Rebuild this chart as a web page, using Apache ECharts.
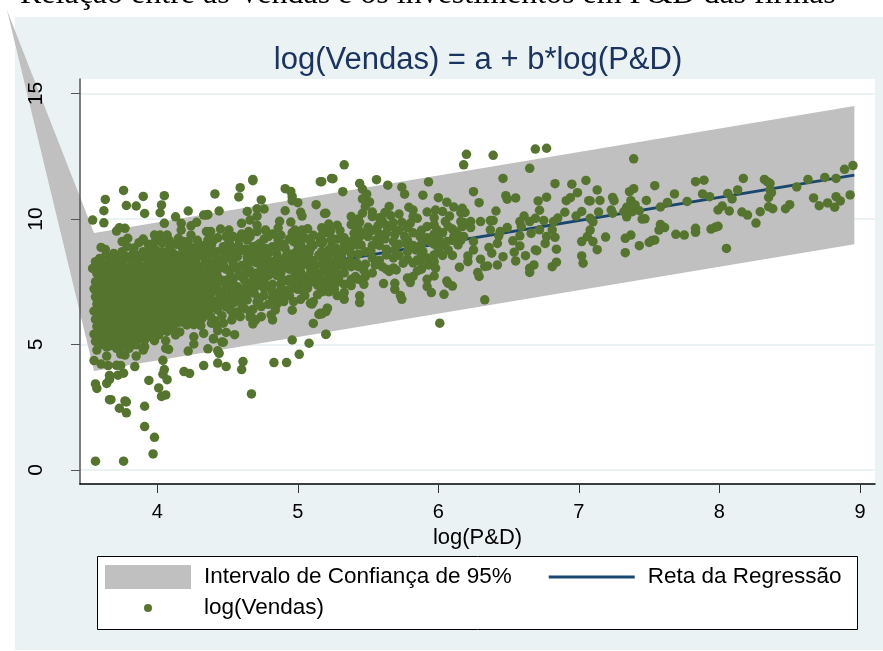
<!DOCTYPE html>
<html><head><meta charset="utf-8">
<style>html,body{margin:0;padding:0;background:#fff}#c{width:883px;height:651px}</style>
<script src="https://cdn.jsdelivr.net/npm/echarts@6/dist/echarts.min.js"></script>
</head><body><div id="c"></div>
<script>
const tickX = [4,5,6,7,8,9];
const tickY = [0,5,10,15];
const bandX = [2.93,3.55,8.96,8.96,3.55];
const bandY = [18.33,9.44,14.5,9.0,3.94];
const lineX = [3.55,8.96];
const lineY = [6.75,11.75];

const pontosDireita = [[7.39,12.40],[7.13,11.16],[7.08,10.72],[7.15,10.74],[7.24,10.86],[7.25,10.73],[7.36,11.09],[7.39,11.21],[7.54,11.33],[7.37,10.73],[7.48,10.74],[7.68,11.0],[7.63,10.66],[7.77,10.70],[7.58,10.48],[7.83,11.49],[7.89,11.55],[7.88,11.0],[7.93,10.89],[8.17,11.62],[8.13,11.16],[8.06,11.02],[8.09,10.8],[8.32,11.58],[8.34,11.49],[8.36,11.42],[8.36,11.16],[8.37,11.05],[8.35,10.86],[8.55,11.28],[8.63,11.58],[8.75,11.66],[8.83,11.62],[8.89,11.98],[8.95,12.13],[8.67,10.84],[8.71,10.53],[8.77,10.64],[8.82,10.47],[8.83,10.89],[8.86,10.72],[8.93,10.96],[8.35,10.49],[8.38,10.41],[8.47,10.41],[8.50,10.57],[8.29,10.29],[8.16,10.28],[8.20,10.16],[8.26,9.84],[8.02,10.52],[7.99,10.36],[8.07,10.32],[8.05,8.83],[7.99,9.71],[7.97,9.67],[7.94,9.6],[7.83,9.63],[7.83,9.47],[7.69,9.39],[7.75,9.36],[7.58,9.78],[7.61,9.66],[7.57,9.56],[7.54,9.16],[7.52,9.14],[7.50,9.07],[7.43,8.94],[7.33,8.66],[7.37,9.36],[7.33,9.23],[7.19,9.28],[7.13,8.78],[7.10,9.10],[7.08,9.56],[7.10,9.89],[7.08,10.03],[7.14,10.28],[7.23,10.36],[7.24,10.23],[7.32,10.29],[7.34,10.47],[7.37,10.56],[7.40,10.56],[7.34,10.09],[7.38,10.29],[7.43,10.33],[7.45,10.0],[7.47,10.01]];

const pontosCentro = [[5.33,12.16],[5.17,11.49],[5.25,11.61],[5.44,11.42],[5.56,11.57],[5.64,11.35],[5.32,11.09],[5.46,11.19],[5.49,10.99],[5.46,10.80],[5.51,10.68],[5.74,11.27],[5.76,10.99],[5.93,11.48],[5.89,10.95],[6.0,10.85],[6.06,10.67],[6.11,10.48],[6.17,10.43],[6.19,10.26],[6.20,12.58],[6.18,12.16],[6.39,12.54],[6.69,12.79],[6.77,12.82],[6.65,12.02],[6.46,11.62],[6.25,11.09],[6.29,10.65],[6.41,10.32],[6.48,10.93],[6.49,10.79],[6.55,10.84],[6.71,10.72],[6.77,10.87],[6.83,11.41],[6.95,11.39],[7.05,11.54],[6.99,11.05],[6.94,10.85],[6.91,10.73],[7.07,10.73],[6.90,10.27],[7.02,10.3],[6.98,10.12],[6.72,10.35],[6.61,10.12],[6.58,9.9],[6.65,9.9],[6.69,10.03],[6.75,9.94],[6.85,10.04],[6.82,9.9],[6.81,9.57],[6.72,9.57],[6.66,9.43],[6.59,9.70],[6.58,9.33],[6.49,9.66],[6.44,9.5],[6.43,9.33],[6.37,9.57],[6.37,9.94],[6.39,9.94],[6.30,9.9],[6.23,9.9],[6.23,9.66],[6.18,9.86],[6.17,9.70],[6.08,10.12],[5.98,10.36],[5.92,10.28],[5.79,10.47],[5.82,10.36],[5.85,10.03],[5.80,9.83],[5.74,9.87],[5.65,10.5],[5.62,10.26],[5.66,10.14],[5.53,10.28],[5.46,10.23],[5.44,9.87],[5.38,9.78],[5.50,9.67],[5.57,9.73],[5.60,9.94],[5.67,9.70],[5.69,9.37],[5.62,9.21],[5.56,9.17],[5.50,9.30],[5.44,9.30],[5.40,9.43],[5.30,9.54],[5.23,9.50],[5.20,10.23],[5.16,9.30],[5.45,8.97],[5.52,8.74],[5.55,8.17],[5.47,7.95],[5.41,7.71],[5.47,7.4],[5.61,7.43],[5.69,7.44],[5.69,7.2],[5.73,6.95],[5.74,6.8],[5.44,6.94],[5.44,6.67],[5.33,7.07],[5.33,6.8],[5.25,7.18],[5.21,6.45],[5.17,6.22],[5.20,5.41],[6.01,5.85],[6.33,6.78],[5.63,8.57],[5.69,8.77],[5.78,8.7],[5.75,8.24],[5.70,7.97],[5.65,7.91],[5.60,8.1],[5.85,8.37],[5.87,8.3],[5.93,8.17],[5.98,8.04],[5.97,7.73],[5.85,7.93],[5.82,7.71],[5.80,7.47],[5.92,7.31],[5.95,7.07],[6.04,7.0],[6.06,7.53],[6.10,7.33],[6.07,7.44],[6.15,8.08],[6.21,8.53],[6.21,8.3],[6.28,7.87],[6.29,7.71],[6.30,8.4],[6.33,8.11],[6.35,8.13],[6.42,8.17],[6.46,8.5],[6.38,8.64],[6.36,8.87],[6.42,9.03],[6.25,9.1],[6.25,8.77],[6.14,8.97],[6.07,8.77],[6.0,8.77],[5.97,8.57],[5.89,8.7],[5.84,8.77],[5.78,8.97],[5.76,9.30],[5.87,9.3],[5.94,9.1],[6.0,9.23],[6.06,9.1],[6.11,9.3],[6.18,9.3],[5.97,9.77],[5.99,9.57],[6.05,9.9],[6.07,9.7],[6.12,9.5],[6.14,9.37],[6.53,9.13],[6.58,8.93],[6.54,8.68],[6.55,8.33],[6.62,8.54],[6.69,8.77],[6.70,8.74],[6.76,9.03],[6.77,9.3],[6.83,9.27],[6.84,8.8],[6.84,8.28],[6.81,8.1],[6.68,8.17],[6.65,8.04],[6.65,7.87],[7.02,8.53],[7.03,8.24],[7.02,9.1],[7.06,9.3],[5.18,8.3],[5.23,8.24],[5.28,8.37],[5.31,8.5],[5.37,8.3],[5.42,8.24],[5.21,7.97],[5.27,7.84],[5.33,8.1],[5.16,7.84],[5.23,7.44],[5.2,7.37],[5.27,7.44],[5.16,7.31],[5.18,9.1],[5.24,9.17],[5.22,8.77],[5.27,8.84],[5.33,8.97],[5.37,8.77],[5.42,8.97],[5.40,9.17],[5.17,8.5]];

const pontosTopo = [[3.76,11.14],[3.63,10.78],[3.90,10.90],[4.05,10.93],[3.78,10.54],[3.85,10.52],[4.03,10.56],[3.62,10.33],[3.91,10.22],[4.02,10.25],[3.54,9.96],[3.62,9.85],[4.13,10.09],[4.22,10.32],[4.33,10.16],[4.05,9.83],[3.77,9.63],[3.73,9.65],[3.71,9.52],[3.79,9.23],[3.75,9.10],[3.90,9.20],[3.87,9.06],[3.98,9.36],[4.02,9.36],[4.07,9.36],[4.17,9.83],[4.17,9.56],[4.28,9.87],[4.24,9.73],[4.35,10.16],[4.35,9.5],[4.24,9.36],[4.15,9.23],[3.60,8.87],[3.63,8.79],[3.96,8.92],[3.99,8.76],[4.09,8.87],[4.18,8.83],[4.30,8.96],[4.36,9.16],[3.56,8.3],[3.59,8.43],[3.69,8.63],[3.75,8.7],[3.83,8.63],[3.90,8.7],[4.02,8.43],[4.16,8.5],[4.27,8.63],[3.54,8.03],[3.66,8.37],[3.76,8.37],[3.86,8.3],[3.95,8.23],[4.07,8.23],[4.23,8.3],[4.34,8.37],[4.68,11.58],[4.68,11.53],[4.59,11.25],[4.41,11.0],[4.58,10.88],[4.91,11.21],[4.95,11.10],[4.96,10.89],[4.96,10.73],[5.0,10.65],[5.16,11.49],[5.24,11.62],[4.74,10.76],[5.13,10.57],[4.44,10.32],[4.36,10.18],[4.64,10.3],[4.71,10.41],[4.76,10.4],[4.91,10.33],[5.02,10.27],[5.03,10.12],[5.19,10.22],[4.71,10.12],[4.66,9.96],[4.6,9.83],[4.87,9.91],[4.86,9.64],[4.95,9.88],[5.07,9.61],[4.98,9.56],[4.96,9.45],[5.23,9.53],[5.19,9.45],[5.24,9.23],[5.16,9.16],[5.09,9.1],[5.03,9.56],[4.77,9.56],[4.71,9.5],[4.65,9.5],[4.79,9.3],[4.86,9.16],[4.51,9.56],[4.45,9.6],[4.38,9.5],[4.40,9.16],[4.51,9.1],[4.58,8.96],[4.64,9.16],[4.73,9.03],[4.77,8.83],[4.97,9.1],[4.91,8.83],[4.85,8.83],[5.0,8.76],[5.09,8.83],[5.17,9.03],[5.24,8.9],[5.15,8.57],[5.2,8.57],[5.05,8.43],[4.96,8.43],[4.86,8.43],[4.79,8.37],[4.70,8.63],[4.64,8.5],[4.54,8.7],[4.47,8.9],[4.48,8.5],[4.39,8.63],[4.35,8.37],[4.41,8.17],[4.54,8.23],[4.62,8.1],[4.74,8.17],[4.91,8.1],[5.0,8.1],[5.12,8.1],[5.24,8.23]];

const pontosBase = [[3.56,0.35],[3.76,0.35],[3.97,0.64],[3.98,1.30],[3.91,1.73],[3.91,2.54],[3.78,2.28],[3.73,2.46],[3.78,2.71],[3.77,2.75],[3.67,2.8],[3.66,2.8],[3.57,3.25],[3.56,3.43],[3.64,3.45],[3.66,3.77],[3.66,3.61],[3.72,3.78],[3.76,3.86],[3.94,3.57],[4.01,3.27],[4.03,2.93],[4.06,2.99],[4.07,3.60],[4.04,3.82],[4.05,4.0],[4.04,4.37],[3.84,4.12],[3.55,4.36],[3.6,4.22],[3.65,4.16],[3.71,4.17],[3.74,4.16],[3.85,4.54],[4.19,3.92],[4.23,3.85],[4.33,4.16],[4.43,4.26],[4.49,4.12],[4.60,4.0],[4.61,4.32],[4.83,4.28],[4.92,4.28],[5.01,4.61],[5.08,5.05],[4.96,5.18],[4.67,3.03],[4.22,4.74],[4.36,4.83],[4.43,4.75],[4.44,4.65],[3.57,4.78],[3.64,4.54],[3.64,4.91],[3.71,4.85],[3.74,4.62],[3.77,4.58],[3.80,4.85],[3.85,4.99],[3.90,4.78],[3.91,4.91],[4.06,4.85],[4.08,4.81],[3.98,5.15],[4.13,5.38],[4.26,5.31],[4.26,5.02],[4.33,5.44],[4.40,5.22],[4.46,5.10],[4.49,5.48],[4.55,5.39],[4.43,5.55],[5.11,5.84],[4.96,6.37],[4.68,5.82],[4.82,5.98],[4.26,5.79],[4.21,5.78],[4.68,6.04],[5.15,6.2],[5.10,6.61],[5.16,6.25],[5.2,6.31],[5.21,6.44],[5.20,5.4],[4.47,5.09],[4.40,5.24],[4.7,5.98],[4.81,6.18],[4.84,6.38],[4.74,6.11],[4.66,6.09],[4.59,6.11],[4.53,5.98],[4.47,5.85],[4.42,5.78],[5.09,6.64],[5.14,6.98],[5.04,7.11],[4.97,6.71],[4.9,6.71],[5.26,7.2],[5.21,7.44],[5.29,7.64],[5.14,7.37],[5.08,7.77],[5.14,7.71],[5.0,7.57],[4.95,7.44],[4.88,7.44],[4.82,7.11],[4.76,7.24],[4.69,7.04],[4.64,6.78],[4.74,6.51],[4.62,6.44],[4.52,6.38],[4.43,6.38],[4.38,6.11],[4.52,6.78],[4.45,6.91],[4.38,6.64],[4.57,7.04],[4.49,7.31],[4.43,7.44],[4.62,7.57],[4.69,7.57],[4.52,7.71],[4.43,7.97],[4.47,8.17],[4.57,8.04],[4.64,8.1],[4.74,7.97],[4.83,8.04],[4.89,7.57],[4.97,8.04],[5.02,8.24],[5.09,8.04],[5.19,8.04],[5.27,7.97],[5.27,8.3]];

const pontosNucleo = [
[3.56,5.12],[3.55,5.41],[3.57,5.72],[3.56,6.0],[3.55,6.33],[3.57,6.61],[3.56,6.9],[3.55,7.22],[3.56,7.5],[3.57,7.83],
[3.61,5.0],[3.6,5.3],[3.62,5.58],[3.61,5.88],[3.6,6.2],[3.62,6.47],[3.61,6.77],[3.6,7.07],[3.62,7.38],[3.61,7.66],[3.6,7.95],[3.62,8.18],
[3.66,4.95],[3.67,5.22],[3.65,5.5],[3.66,5.81],[3.67,6.1],[3.65,6.4],[3.66,6.7],[3.67,6.98],[3.65,7.3],[3.66,7.58],[3.67,7.88],
[3.71,5.1],[3.72,5.4],[3.7,5.7],[3.71,6.0],[3.72,6.3],[3.7,6.58],[3.72,6.88],[3.71,7.18],[3.7,7.48],[3.72,7.77],[3.71,8.08],[3.7,8.35],
[3.76,4.95],[3.77,5.25],[3.75,5.55],[3.76,5.86],[3.77,6.14],[3.75,6.46],[3.76,6.75],[3.77,7.03],[3.75,7.34],[3.76,7.62],[3.77,7.92],[3.75,8.15],
[3.81,5.12],[3.82,5.42],[3.8,5.72],[3.81,6.02],[3.82,6.3],[3.8,6.6],[3.82,6.9],[3.81,7.2],[3.8,7.5],[3.82,7.78],[3.81,8.05],[3.8,8.4],
[3.86,5.2],[3.87,5.52],[3.85,5.82],[3.86,6.12],[3.87,6.42],[3.85,6.72],[3.86,7.02],[3.87,7.32],[3.85,7.62],[3.86,7.92],[3.87,8.55],
[3.91,5.18],[3.92,5.42],[3.9,5.7],[3.91,6.0],[3.92,6.3],[3.9,6.6],[3.92,6.88],[3.91,7.18],[3.9,7.48],[3.92,7.76],[3.91,8.05],[3.92,8.45],
[3.96,5.3],[3.97,5.6],[3.95,5.9],[3.96,6.2],[3.97,6.5],[3.95,6.8],[3.96,7.1],[3.97,7.38],[3.95,7.68],[3.96,7.96],[3.97,8.5],
[4.01,5.38],[4.02,5.7],[4.0,6.0],[4.01,6.3],[4.02,6.6],[4.0,6.9],[4.01,7.2],[4.02,7.5],[4.0,7.8],[4.01,8.08],[4.0,8.6],
[4.06,5.15],[4.07,5.52],[4.05,5.8],[4.06,6.1],[4.07,6.42],[4.05,6.72],[4.06,7.0],[4.07,7.32],[4.05,7.62],[4.06,7.9],[4.07,8.5],
[4.11,5.7],[4.12,6.0],[4.1,6.3],[4.11,6.58],[4.12,6.88],[4.1,7.18],[4.11,7.48],[4.12,7.78],[4.1,8.05],[4.12,8.35],[4.11,8.65],
[4.16,5.5],[4.17,5.9],[4.15,6.2],[4.16,6.48],[4.17,6.78],[4.15,7.08],[4.16,7.38],[4.17,7.68],[4.15,7.95],[4.17,8.2],[4.15,9.0],
[4.21,6.05],[4.22,6.35],[4.2,6.65],[4.21,6.95],[4.22,7.25],[4.2,7.55],[4.21,7.85],[4.22,8.1],[4.2,8.62],[4.22,9.1],
[4.26,6.18],[4.27,6.48],[4.25,6.8],[4.26,7.1],[4.27,7.4],[4.25,7.7],[4.26,8.0],[4.27,8.28],[4.25,8.85],
[4.31,5.75],[4.32,6.05],[4.3,6.35],[4.31,6.65],[4.32,6.95],[4.3,7.25],[4.31,7.55],[4.32,7.85],[4.3,8.12],[4.31,8.7],
[4.36,6.3],[4.37,6.85],[4.35,7.15],[4.36,7.45],[4.37,7.75],[4.35,8.02],[4.36,8.85],
[4.41,5.95],[4.42,6.6],[4.4,7.12],[4.41,7.65],[4.42,8.4],
[4.46,6.15],[4.47,6.65],[4.46,7.1],[4.47,7.55],[4.46,8.35],[4.48,8.75],
[4.51,6.55],[4.52,7.0],[4.53,7.45],[4.52,7.95],[4.51,8.45],[4.52,8.95],
[4.57,6.3],[4.58,6.85],[4.57,7.3],[4.58,7.78],[4.57,8.5],[4.58,9.2],
[4.63,6.95],[4.64,7.35],[4.63,7.85],[4.64,8.3],[4.63,8.8],
[4.68,6.4],[4.69,7.25],[4.68,7.75],[4.69,8.3],[4.68,8.9],
[4.73,6.85],[4.74,7.45],[4.73,7.75],[4.74,8.4],[4.73,8.8],
[4.79,6.6],[4.8,7.3],[4.79,7.75],[4.8,8.15],[4.79,8.65],
[4.85,6.6],[4.86,6.95],[4.85,7.75],[4.86,8.2],[4.85,8.6],
[4.91,7.15],[4.92,7.55],[4.91,8.35],[4.92,8.55],[4.9,9.0],
[4.97,7.25],[4.98,7.75],[4.97,8.25],[4.98,8.65],
[5.02,6.8],[5.03,7.4],[5.02,7.9],[5.03,8.55],[5.02,9.05],
[5.07,7.25],[5.08,7.55],[5.07,8.25],[5.08,8.65]
];

const pontosDensos = [
[3.585,5.26],[3.585,5.55],[3.585,5.85],[3.585,6.15],[3.585,6.45],[3.585,6.75],[3.585,7.05],[3.585,7.35],[3.585,7.65],[3.585,7.95],[3.585,8.25],
[3.635,5.12],[3.635,5.42],[3.635,5.72],[3.635,6.03],[3.635,6.32],[3.635,6.62],[3.635,6.92],[3.635,7.22],[3.635,7.52],[3.635,7.8],[3.635,8.1],[3.635,8.55],
[3.685,5.28],[3.685,5.6],[3.685,5.9],[3.685,6.2],[3.685,6.5],[3.685,6.82],[3.685,7.12],[3.685,7.42],[3.685,7.72],[3.685,8.02],[3.685,8.32],
[3.735,5.18],[3.735,5.48],[3.735,5.78],[3.735,6.08],[3.735,6.38],[3.735,6.68],[3.735,6.97],[3.735,7.27],[3.735,7.57],[3.735,7.87],[3.735,8.2],[3.735,8.55],
[3.785,5.32],[3.785,5.65],[3.785,5.95],[3.785,6.25],[3.785,6.55],[3.785,6.85],[3.785,7.15],[3.785,7.45],[3.785,7.75],[3.785,8.05],[3.785,8.5],[3.785,8.9],
[3.835,5.05],[3.835,5.35],[3.835,5.67],[3.835,5.97],[3.835,6.27],[3.835,6.57],[3.835,6.87],[3.835,7.17],[3.835,7.47],[3.835,7.77],[3.835,8.1],[3.835,8.45],[3.835,8.85],
[3.885,5.38],[3.885,5.68],[3.885,5.98],[3.885,6.28],[3.885,6.58],[3.885,6.88],[3.885,7.18],[3.885,7.48],[3.885,7.78],[3.885,8.12],[3.885,8.5],
[3.935,5.55],[3.935,5.85],[3.935,6.15],[3.935,6.45],[3.935,6.75],[3.935,7.05],[3.935,7.35],[3.935,7.65],[3.935,7.95],[3.935,8.3],[3.935,8.65],[3.935,9.0],
[3.985,5.45],[3.985,5.78],[3.985,6.08],[3.985,6.38],[3.985,6.68],[3.985,6.98],[3.985,7.28],[3.985,7.58],[3.985,7.88],[3.985,8.2],[3.985,8.55],[3.985,9.1],
[4.035,5.55],[4.035,5.88],[4.035,6.18],[4.035,6.48],[4.035,6.78],[4.035,7.08],[4.035,7.38],[4.035,7.68],[4.035,7.95],[4.035,8.3],[4.035,8.7],[4.035,9.05],
[4.085,5.65],[4.085,5.95],[4.085,6.25],[4.085,6.55],[4.085,6.85],[4.085,7.15],[4.085,7.45],[4.085,7.75],[4.085,8.05],[4.085,8.4],[4.085,8.75],[4.085,9.15],
[4.135,5.85],[4.135,6.15],[4.135,6.45],[4.135,6.75],[4.135,7.05],[4.135,7.35],[4.135,7.65],[4.135,7.95],[4.135,8.22],[4.135,8.55],[4.135,9.0],
[4.185,6.05],[4.185,6.35],[4.185,6.65],[4.185,6.95],[4.185,7.25],[4.185,7.55],[4.185,7.85],[4.185,8.15],[4.185,8.45],[4.185,8.75],[4.185,9.1],
[4.235,5.95],[4.235,6.2],[4.235,6.5],[4.235,6.8],[4.235,7.1],[4.235,7.4],[4.235,7.7],[4.235,8.0],[4.235,8.45],[4.235,8.8],
[4.285,6.05],[4.285,6.35],[4.285,6.65],[4.285,6.95],[4.285,7.25],[4.285,7.55],[4.285,7.85],[4.285,8.15],[4.285,8.5],[4.285,9.15],
[4.335,6.2],[4.335,6.5],[4.335,6.8],[4.335,7.1],[4.335,7.4],[4.335,7.7],[4.335,8.0],[4.335,8.55],[4.335,8.95],
[4.385,5.85],[4.385,6.45],[4.385,6.75],[4.385,7.05],[4.385,7.35],[4.385,7.9],[4.385,8.25],[4.385,8.95],
[4.43,6.75],[4.43,7.15],[4.43,7.7],[4.43,8.3],[4.43,8.7],[4.43,9.25],
[4.49,6.5],[4.49,6.85],[4.49,7.55],[4.49,8.0],[4.49,8.6],[4.49,9.3],
[4.54,6.15],[4.54,6.65],[4.54,7.2],[4.54,7.6],[4.54,8.4],[4.54,9.3],
[4.6,6.6],[4.6,7.2],[4.6,7.7],[4.6,8.15],[4.6,8.75],[4.6,9.4],
[4.66,6.3],[4.66,7.1],[4.66,7.45],[4.66,7.95],[4.66,8.6],[4.66,9.3],
[4.71,6.7],[4.71,7.35],[4.71,7.85],[4.71,8.25],[4.71,8.95],[4.71,9.75],
[4.76,6.95],[4.76,7.55],[4.76,8.05],[4.76,8.6],[4.76,9.2],
[4.82,6.85],[4.82,7.4],[4.82,7.85],[4.82,8.3],[4.82,8.9],[4.82,9.4],
[4.88,6.85],[4.88,7.2],[4.88,7.85],[4.88,8.3],[4.88,9.0],[4.88,9.35],
[4.94,6.95],[4.94,7.6],[4.94,8.0],[4.94,8.6],[4.94,9.2],
[5.0,7.2],[5.0,7.85],[5.0,8.4],[5.0,8.95],[5.0,9.3],
[5.05,6.95],[5.05,7.65],[5.05,8.2],[5.05,8.8],[5.05,9.25],
[5.11,6.7],[5.11,7.5],[5.11,7.9],[5.11,8.35],[5.11,8.95],[5.11,9.35],
[5.17,7.1],[5.17,7.55],[5.17,8.2],[5.17,8.7],[5.17,9.65],
[5.22,7.1],[5.22,7.7],[5.22,8.1],[5.22,8.55],[5.22,9.8],
[5.28,6.95],[5.28,7.6],[5.28,8.15],[5.28,8.6],[5.28,9.2],[5.28,9.75],
[5.33,7.4],[5.33,7.85],[5.33,8.25],[5.33,8.75],[5.33,9.25],
[5.38,7.35],[5.38,7.6],[5.38,8.1],[5.38,8.6],[5.38,9.1],[5.38,10.1],
[5.43,7.6],[5.43,8.1],[5.43,8.6],[5.43,9.6],[5.43,10.0],
[5.48,8.7],[5.48,8.2],[5.48,7.7],[5.48,9.45],[5.48,10.5],
[5.53,8.95],[5.53,8.45],[5.53,7.85],[5.53,9.55],[5.53,10.1],
[5.58,8.95],[5.58,8.35],[5.58,9.4],[5.58,10.05],
[5.63,8.8],[5.63,8.0],[5.63,9.45],[5.63,9.75],
[5.68,8.45],[5.68,9.1],[5.68,9.85],[5.68,8.05],
[5.72,9.0],[5.72,8.55],[5.72,9.55],[5.72,10.2],
[5.78,9.15],[5.78,8.4],[5.78,9.65],[5.78,7.65],
[5.82,9.45],[5.82,8.95],[5.82,8.25],[5.82,10.1],
[5.88,9.0],[5.88,8.55],[5.88,9.55],[5.88,8.0],
[5.92,9.7],[5.92,9.25],[5.92,8.45],[5.92,7.6],
[5.97,9.4],[5.97,9.0],[5.97,10.05],[5.97,8.3],
[6.03,9.45],[6.03,8.95],[6.03,10.3],[6.03,8.55],
[6.1,9.6],[6.1,9.15],[6.1,8.55],
[6.16,9.15],[6.16,9.9],[6.16,10.25]
];

const pontosTodos = pontosNucleo.concat(pontosDensos, pontosBase, pontosTopo, pontosCentro, pontosDireita);

const chart = echarts.init(document.getElementById('c'), null, {renderer:'canvas'});
const FONT = '"Liberation Sans", Arial, sans-serif';
const NOME_BANDA = 'Intervalo de Confiança de 95%', NOME_RETA = 'Reta da Regressão', NOME_PONTOS = 'log(Vendas)';
const xMin = 3.45, xMax = 9.107, yMin = -0.558, yMax = 15.58;
const legendaBase = {orient:'horizontal',itemWidth:86,itemHeight:24,padding:0,selectedMode:false,z:6,
  textStyle:{fontFamily:FONT,fontSize:22.5,color:'#000',padding:[4,0,0,8]}};

chart.setOption({
  animation:false,
  backgroundColor:'#fff',
  graphic:[
    {type:'rect',z:-10,silent:true,shape:{x:15,y:17,width:868,height:633},style:{fill:'#eaf2f3'}},
    {type:'rect',z:5,silent:true,shape:{x:97.5,y:556.5,width:760,height:73},style:{fill:'#fff',stroke:'#000',lineWidth:1}}
  ],
  title:[
    {text:'Relação entre as Vendas e os investimentos em P&D das firmas',left:20,top:-21,padding:0,
     textStyle:{fontFamily:'"Liberation Serif","Times New Roman",serif',fontSize:32,fontWeight:'normal',color:'#000'}},
    {text:'log(Vendas) = a + b*log(P&D)',left:478,textAlign:'center',top:45,padding:0,
     textStyle:{fontFamily:FONT,fontSize:31,fontWeight:'normal',color:'#1a3360'}}
  ],
  grid:{left:80,top:79,width:795,height:405,show:true,backgroundColor:'#fff',borderWidth:0,containLabel:false},
  xAxis:{type:'value',min:xMin,max:xMax,position:'bottom',z:5,
    name:'log(P&D)',nameLocation:'middle',nameGap:35,
    nameTextStyle:{fontFamily:FONT,fontSize:22,color:'#000'},
    axisLine:{onZero:false,lineStyle:{color:'#000',width:1.5}},
    axisTick:{length:9,lineStyle:{color:'#333',width:1},customValues:tickX},
    axisLabel:{fontFamily:FONT,fontSize:20,color:'#000',margin:18,customValues:tickX,showMinLabel:true,showMaxLabel:true},
    splitLine:{show:false}},
  yAxis:[
    {type:'value',min:yMin,max:yMax,z:0,
     axisLine:{show:false},
     splitLine:{show:true,lineStyle:{color:'#eaf2f3',width:2}},
     axisTick:{show:false,customValues:tickY},axisLabel:{show:false,customValues:tickY}},
    {type:'value',min:yMin,max:yMax,position:'left',z:5,
     axisLine:{show:true,onZero:false,lineStyle:{color:'#555',width:1.5}},
     axisTick:{show:true,length:9,lineStyle:{color:'#555',width:1},customValues:tickY},
     axisLabel:{fontFamily:FONT,fontSize:21,color:'#000',rotate:90,margin:33,customValues:tickY},
     splitLine:{show:false}}
  ],
  legend:[
    Object.assign({},legendaBase,{left:105,top:565,itemGap:37,
      data:[
        {name:NOME_BANDA,icon:'rect'},
        {name:NOME_RETA,icon:'path://M0 0M86 24M0 10.5H86V13.5H0Z'}
      ]}),
    Object.assign({},legendaBase,{left:105,top:596,
      data:[
        {name:NOME_PONTOS,icon:'path://M0 0M86 24M43 12m-4 0a4 4 0 1 0 8 0a4 4 0 1 0-8 0z'}
      ]})
  ],
  series:[
    {type:'custom',name:NOME_BANDA,z:1,silent:true,clip:false,
     coordinateSystem:'cartesian2d',yAxisIndex:0,
     itemStyle:{color:'#c0c0c0'},
     data:bandX.map((x,i)=>[x,bandY[i]]),
     encode:{x:0,y:1},
     renderItem:(params,api)=>{
       if(params.dataIndex!==0) return {type:'group',children:[]};
       return {type:'polygon',shape:{points:bandX.map((x,i)=>api.coord([x,bandY[i]]))},style:{fill:'#c0c0c0'}};
     }},
    {type:'line',name:NOME_RETA,z:2,yAxisIndex:0,showSymbol:false,symbol:'none',
     data:lineX.map((x,i)=>[x,lineY[i]]),
     itemStyle:{color:'#1a476f'},lineStyle:{color:'#1a476f',width:3}},
    {type:'scatter',name:NOME_PONTOS,z:3,yAxisIndex:0,symbolSize:9.5,clip:false,
     data:pontosTodos,itemStyle:{color:'#55752f',opacity:1}}
  ]
});
</script></body></html>
